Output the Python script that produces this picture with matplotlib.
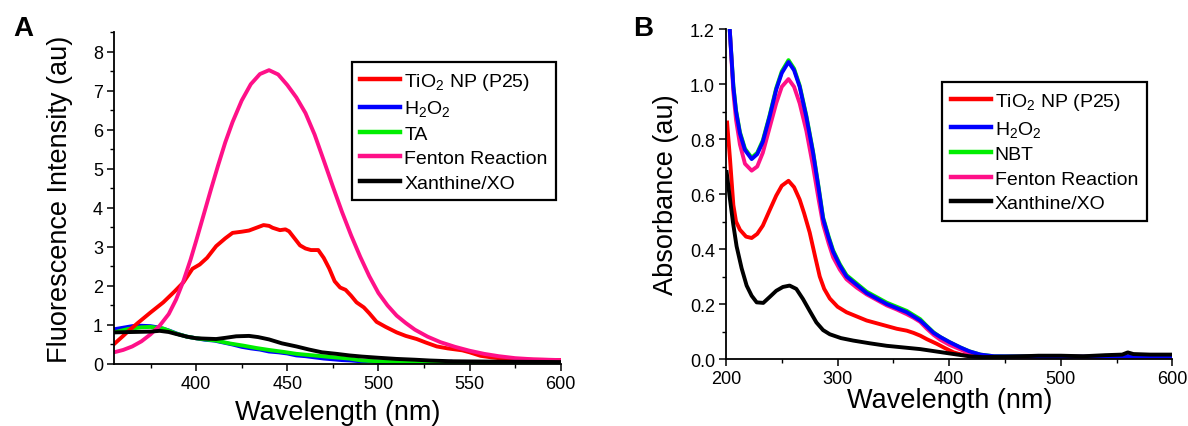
import matplotlib
matplotlib.use('Agg')
from matplotlib import pyplot as plt
from matplotlib.ticker import MultipleLocator, FormatStrFormatter

# ---- Panel A: fluorescence ----
a_tio2_x = [355, 360, 363, 368, 375, 382, 388, 393, 398, 402, 406, 411, 416, 420, 425, 429, 433, 437, 440,
            442, 446, 449, 451, 453, 457, 460, 463, 467, 470, 473, 476, 479, 482, 485, 488, 492, 495, 499,
            504, 510, 515, 521, 526, 532, 538, 546, 550, 556, 562, 568, 583, 600]
a_tio2_y = [0.51, 0.72, 0.85, 1.05, 1.32, 1.58, 1.85, 2.09, 2.44, 2.55, 2.72, 3.02, 3.22, 3.36, 3.39, 3.42,
            3.49, 3.56, 3.54, 3.49, 3.43, 3.45, 3.40, 3.28, 3.04, 2.96, 2.92, 2.92, 2.72, 2.45, 2.12, 1.96,
            1.90, 1.75, 1.58, 1.45, 1.30, 1.08, 0.95, 0.81, 0.72, 0.64, 0.55, 0.45, 0.40, 0.35, 0.30, 0.21,
            0.17, 0.14, 0.11, 0.10]

a_h2o2_x = [355, 360, 365, 370, 375, 380, 385, 390, 395, 400, 405, 410, 415, 420, 425, 430, 435, 440, 445,
            450, 455, 460, 465, 470, 475, 480, 485, 490, 495, 500, 505, 510, 515, 520, 525, 530, 535, 540,
            545, 550, 560, 575, 600]
a_h2o2_y = [0.89, 0.93, 0.97, 0.98, 0.97, 0.93, 0.86, 0.77, 0.70, 0.66, 0.62, 0.60, 0.55, 0.50, 0.44, 0.40,
            0.37, 0.32, 0.30, 0.27, 0.22, 0.20, 0.17, 0.14, 0.12, 0.10, 0.09, 0.07, 0.08, 0.05, 0.06, 0.04,
            0.05, 0.03, 0.03, 0.04, 0.03, 0.06, 0.02, 0.02, 0.02, 0.01, 0.01]

a_ta_x = [355, 363, 370, 375, 382, 389, 395, 400, 405, 411, 418, 426, 433, 440, 448, 455, 462, 469, 476,
          484, 491, 500, 510, 520, 530, 550, 575, 600]
a_ta_y = [0.81, 0.90, 0.94, 0.95, 0.91, 0.78, 0.70, 0.66, 0.63, 0.60, 0.53, 0.47, 0.41, 0.36, 0.31, 0.26,
          0.23, 0.20, 0.17, 0.14, 0.09, 0.07, 0.05, 0.04, 0.03, 0.025, 0.02, 0.02]

a_fenton_x = [355, 360, 365, 370, 375, 380, 385, 389, 393, 397, 400, 404, 408, 412, 416, 420, 425, 430, 435,
              440, 445, 450, 455, 460, 465, 470, 475, 480, 485, 490, 495, 500, 505, 510, 515, 520, 527, 534,
              542, 550, 558, 566, 575, 585, 600]
a_fenton_y = [0.30, 0.36, 0.45, 0.58, 0.76, 0.98, 1.28, 1.65, 2.12, 2.68, 3.15, 3.80, 4.45, 5.08, 5.68, 6.20,
              6.75, 7.17, 7.43, 7.53, 7.42, 7.15, 6.83, 6.43, 5.88, 5.22, 4.55, 3.90, 3.30, 2.75, 2.25, 1.82,
              1.50, 1.24, 1.05, 0.88, 0.70, 0.56, 0.44, 0.34, 0.26, 0.20, 0.15, 0.12, 0.10]

a_xo_x = [355, 365, 375, 380, 385, 389, 395, 400, 405, 411, 416, 422, 429, 434, 440, 447, 455, 462, 469, 477,
          484, 491, 500, 510, 520, 528, 540, 565, 600]
a_xo_y = [0.81, 0.82, 0.83, 0.85, 0.82, 0.77, 0.70, 0.66, 0.65, 0.64, 0.67, 0.71, 0.72, 0.69, 0.63, 0.53,
          0.45, 0.37, 0.30, 0.26, 0.22, 0.19, 0.16, 0.13, 0.11, 0.09, 0.07, 0.06, 0.05]

# ---- Panel B: absorbance ----
b_tio2_x = [201, 203.6, 206.6, 209, 212.5, 218, 223, 228, 233, 239, 245, 250, 256, 261, 266, 270, 275, 280,
            284, 288, 293, 300, 308, 317, 326, 335, 344, 353, 362, 368, 374, 380, 389, 396, 404, 412, 420,
            440, 600]
b_tio2_y = [0.86, 0.727, 0.56, 0.50, 0.47, 0.445, 0.44, 0.455, 0.485, 0.54, 0.594, 0.63, 0.648, 0.625, 0.58,
            0.53, 0.46, 0.37, 0.30, 0.255, 0.22, 0.19, 0.17, 0.155, 0.14, 0.13, 0.12, 0.11, 0.103, 0.095,
            0.085, 0.072, 0.055, 0.04, 0.024, 0.015, 0.01, 0.008, 0.008]

b_h2o2_x = [203, 206.6, 209, 212.5, 217, 223, 228, 233, 239, 245, 250, 256, 261, 266, 272, 278, 283, 287,
            292, 296, 302, 308, 317, 326, 335, 344, 353, 362, 368, 374, 380, 386, 392, 400, 410, 418, 428,
            440, 500, 560, 600]
b_h2o2_y = [1.22, 0.99, 0.90, 0.82, 0.76, 0.727, 0.745, 0.79, 0.88, 0.98, 1.04, 1.08, 1.05, 0.99, 0.88,
            0.75, 0.62, 0.51, 0.44, 0.39, 0.34, 0.30, 0.27, 0.24, 0.22, 0.20, 0.185, 0.17, 0.155, 0.14,
            0.118, 0.095, 0.08, 0.062, 0.042, 0.028, 0.016, 0.01, 0.008, 0.01, 0.01]

b_nbt_x = [203, 206.6, 209, 212.5, 217, 223, 228, 233, 239, 245, 250, 256, 261, 266, 272, 278, 283, 287,
           292, 296, 302, 308, 317, 326, 335, 344, 353, 362, 368, 374, 380, 386, 392, 400, 410, 418, 428,
           440, 500, 600]
b_nbt_y = [1.22, 0.995, 0.905, 0.825, 0.765, 0.732, 0.75, 0.795, 0.885, 0.985, 1.046, 1.087, 1.056, 0.995,
           0.885, 0.755, 0.625, 0.515, 0.445, 0.395, 0.345, 0.305, 0.275, 0.245, 0.225, 0.205, 0.19, 0.175,
           0.16, 0.145, 0.12, 0.097, 0.08, 0.062, 0.042, 0.028, 0.016, 0.01, 0.008, 0.008]

b_fenton_x = [203.5, 206.6, 209, 212.5, 217, 223, 228, 233, 239, 245, 250, 256, 261, 266, 272, 278, 283,
              287, 292, 296, 302, 308, 317, 326, 335, 344, 353, 362, 368, 374, 380, 386, 392, 400, 410, 418,
              428, 440, 500, 600]
b_fenton_y = [1.19, 0.97, 0.87, 0.78, 0.71, 0.685, 0.70, 0.75, 0.84, 0.93, 0.99, 1.018, 0.99, 0.93, 0.83,
              0.70, 0.58, 0.49, 0.42, 0.37, 0.325, 0.29, 0.26, 0.235, 0.215, 0.195, 0.18, 0.163, 0.15, 0.135,
              0.11, 0.088, 0.07, 0.052, 0.035, 0.02, 0.012, 0.008, 0.008, 0.008]

b_xo_x = [200.6, 203.6, 206.5, 209.5, 214, 218.5, 223, 227.5, 233.4, 239, 245, 251, 257, 263, 269, 275, 281,
          287, 293, 303, 314, 329, 344, 359, 374, 389, 404, 418, 430, 450, 480, 500, 520, 540, 555, 560,
          565, 580, 600]
b_xo_y = [0.68, 0.58, 0.49, 0.41, 0.33, 0.267, 0.23, 0.206, 0.204, 0.225, 0.248, 0.262, 0.267, 0.255, 0.218,
          0.175, 0.133, 0.105, 0.09, 0.076, 0.067, 0.057, 0.048, 0.042, 0.036, 0.027, 0.018, 0.01, 0.007,
          0.008, 0.012, 0.012, 0.01, 0.014, 0.016, 0.024, 0.018, 0.016, 0.016]

RED = '#ff0000'
BLUE = '#0000ff'
GREEN = '#00ee00'
PINK = '#ff1088'
BLACK = '#000000'

plt.rcParams['font.family'] = ['Liberation Sans', 'DejaVu Sans']
plt.rcParams['mathtext.fontset'] = 'custom'
plt.rcParams['mathtext.rm'] = 'Liberation Sans'
plt.rcParams['mathtext.it'] = 'Liberation Sans'
plt.rcParams['mathtext.bf'] = 'Liberation Sans:bold'

LW = 2.8


def style_axes(ax):
    for s in ['top', 'right']:
        ax.spines[s].set_visible(False)
    for s in ['left', 'bottom']:
        ax.spines[s].set_linewidth(1.3)
    ax.tick_params(which='major', direction='out', length=5, width=1.1, labelsize=13, pad=3)
    ax.tick_params(which='minor', direction='out', length=3, width=1.0)


def make_legend(ax, handles, labels, anchor):
    leg = ax.legend(handles, labels, loc='upper left', bbox_to_anchor=anchor, fontsize=14,
                    handlelength=2.05, handletextpad=0.2, borderpad=0.45, labelspacing=0.35,
                    frameon=True, fancybox=False, framealpha=1, borderaxespad=0)
    leg.get_frame().set_edgecolor('black')
    leg.get_frame().set_linewidth(1.6)
    for line in leg.get_lines():
        line.set_linewidth(3.2)
    return leg


fig = plt.figure(figsize=(11.88, 4.27), dpi=100)

# panel A
axA = fig.add_axes([0.0960, 0.1452, 0.376, 0.7768])
h_h2o2, = axA.plot(a_h2o2_x, a_h2o2_y, color=BLUE, lw=LW)
h_ta, = axA.plot(a_ta_x, a_ta_y, color=GREEN, lw=LW)
h_tio2, = axA.plot(a_tio2_x, a_tio2_y, color=RED, lw=LW)
h_fen, = axA.plot(a_fenton_x, a_fenton_y, color=PINK, lw=LW)
h_xo, = axA.plot(a_xo_x, a_xo_y, color=BLACK, lw=LW)
axA.set_xlim(355, 600)
axA.set_ylim(0, 8.5)
axA.xaxis.set_major_locator(MultipleLocator(50))
axA.xaxis.set_minor_locator(MultipleLocator(25))
axA.yaxis.set_major_locator(MultipleLocator(1))
axA.yaxis.set_minor_locator(MultipleLocator(0.5))
style_axes(axA)
axA.set_xlabel('Wavelength (nm)', fontsize=19.5, labelpad=5)
axA.set_ylabel('Fluorescence Intensity (au)', fontsize=19.5, labelpad=14)
make_legend(axA, [h_tio2, h_h2o2, h_ta, h_fen, h_xo],
            [r'TiO$_2$ NP (P25)', r'H$_2$O$_2$', 'TA', 'Fenton Reaction', 'Xanthine/XO'],
            (0.532, 0.911))
fig.text(0.011, 0.915, 'A', fontsize=20, fontweight='bold')

# panel B
axB = fig.add_axes([0.6111, 0.1569, 0.3758, 0.7728])
h_tio2, = axB.plot(b_tio2_x, b_tio2_y, color=RED, lw=LW)
h_nbt, = axB.plot(b_nbt_x, b_nbt_y, color=GREEN, lw=LW)
h_fen, = axB.plot(b_fenton_x, b_fenton_y, color=PINK, lw=LW)
h_h2o2, = axB.plot(b_h2o2_x, b_h2o2_y, color=BLUE, lw=LW)
h_xo, = axB.plot(b_xo_x, b_xo_y, color=BLACK, lw=LW)
axB.set_xlim(200, 600)
axB.set_ylim(0, 1.2)
axB.xaxis.set_major_locator(MultipleLocator(100))
axB.xaxis.set_minor_locator(MultipleLocator(50))
axB.yaxis.set_major_locator(MultipleLocator(0.2))
axB.yaxis.set_minor_locator(MultipleLocator(0.1))
axB.yaxis.set_major_formatter(FormatStrFormatter('%.1f'))
style_axes(axB)
axB.set_xlabel('Wavelength (nm)', fontsize=19.5, labelpad=0)
axB.set_ylabel('Absorbance (au)', fontsize=19.5, labelpad=8)
make_legend(axB, [h_tio2, h_h2o2, h_nbt, h_fen, h_xo],
            [r'TiO$_2$ NP (P25)', r'H$_2$O$_2$', 'NBT', 'Fenton Reaction', 'Xanthine/XO'],
            (0.484, 0.839))
fig.text(0.533, 0.915, 'B', fontsize=20, fontweight='bold')

fig.savefig('out.png', dpi=100)
